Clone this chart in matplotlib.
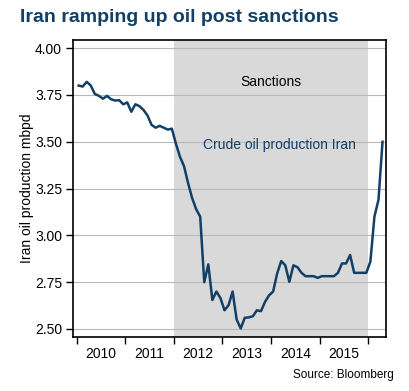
#!/usr/bin/env python3
"""
Iran oil production chart (Bloomberg style)
"""

import numpy as np
import matplotlib
matplotlib.use("Agg")
import matplotlib.pyplot as plt
from matplotlib.ticker import FixedLocator, NullFormatter, FormatStrFormatter

# monthly production, mbpd, Jan 2010 .. Apr 2016
prod_2010 = [3.80, 3.795, 3.82, 3.80, 3.755, 3.745, 3.73, 3.745, 3.727, 3.72, 3.722, 3.70]
prod_2011 = [3.71, 3.66, 3.70, 3.69, 3.67, 3.64, 3.59, 3.575, 3.585, 3.575, 3.565, 3.57]
prod_2012 = [3.49, 3.42, 3.37, 3.28, 3.20, 3.14, 3.10, 2.75, 2.845, 2.655, 2.70, 2.665]
prod_2013 = [2.60, 2.627, 2.70, 2.55, 2.503, 2.56, 2.562, 2.568, 2.60, 2.595, 2.645, 2.68]
prod_2014 = [2.70, 2.797, 2.863, 2.84, 2.752, 2.84, 2.83, 2.80, 2.782, 2.782, 2.782, 2.773]
prod_2015 = [2.782, 2.782, 2.782, 2.782, 2.80, 2.85, 2.85, 2.895, 2.80, 2.80, 2.80, 2.80]
prod_2016 = [2.86, 3.10, 3.19, 3.50]

start_year = 2010
years = [2010, 2011, 2012, 2013, 2014, 2015]
sanctions = (2012, 2016)
yticks = [2.50, 2.75, 3.00, 3.25, 3.50, 3.75, 4.00]

navy = "#123f66"
shade = "#d9d9d9"

plt.rcParams["font.family"] = ["Liberation Sans", "DejaVu Sans"]

values = np.array(prod_2010 + prod_2011 + prod_2012 + prod_2013 +
                  prod_2014 + prod_2015 + prod_2016)
dates = start_year + (np.arange(len(values)) + 0.5) / 12.0

fig = plt.figure(figsize=(4.09, 3.91), dpi=100)
ax = fig.add_axes([0.179, 0.138, 0.765, 0.760])

ax.axvspan(sanctions[0], sanctions[1], color=shade, lw=0, zorder=0)
for y in yticks:
    ax.axhline(y, color="#b8b8b8", lw=0.8, zorder=1)
ax.plot(dates, values, color=navy, lw=1.8, zorder=3)

ax.set_xlim(2009.93, 2016.365)
ax.set_ylim(2.457, 4.044)

ax.yaxis.set_major_locator(FixedLocator(yticks))
ax.yaxis.set_major_formatter(FormatStrFormatter("%.2f"))
ax.xaxis.set_major_locator(FixedLocator(years + [2016]))
ax.xaxis.set_major_formatter(NullFormatter())
ax.xaxis.set_minor_locator(FixedLocator([y + 0.5 for y in years]))
ax.set_xticklabels([str(y) for y in years], minor=True)
ax.tick_params(axis="x", which="minor", length=0, pad=7, labelsize=10)
ax.tick_params(axis="x", which="major", length=5, width=1, direction="out")
ax.tick_params(axis="y", length=5, width=1, labelsize=10, pad=3)

for s in ax.spines.values():
    s.set_linewidth(1.2)
    s.set_color("black")

ax.set_ylabel("Iran oil production mbpd", fontsize=10, labelpad=1)

ax.text(2014.0, 3.82, "Sanctions", ha="center", va="center", fontsize=10)
ax.text(2012.6, 3.485, "Crude oil production Iran", ha="left", va="center",
        fontsize=10, color=navy)

fig.text(0.049, 0.955, "Iran ramping up oil post sanctions", ha="left",
         va="center", fontsize=14, fontweight="bold", color=navy)
fig.text(0.962, 0.040, "Source: Bloomberg", ha="right", va="center",
         fontsize=8.5)

fig.savefig("out.png", dpi=100)
